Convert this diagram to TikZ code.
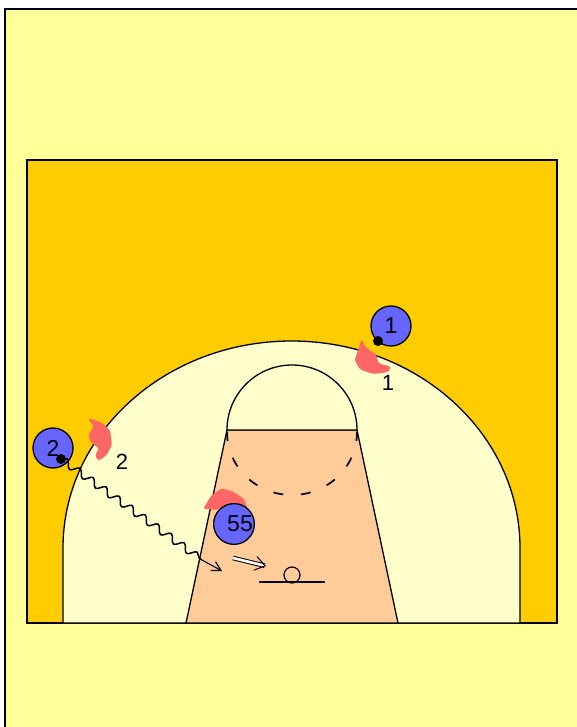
\documentclass[tikz,border=0pt]{standalone}
\usepackage{fontspec}
\setmainfont{Liberation Sans}
\usetikzlibrary{decorations.pathmorphing,arrows.meta}
\definecolor{pagey}{HTML}{FFFF99}
\definecolor{courtgold}{HTML}{FFCC00}
\definecolor{zonecream}{HTML}{FFFFCC}
\definecolor{lanepeach}{HTML}{FFCC99}
\definecolor{playerblue}{HTML}{6666FF}
\definecolor{defred}{HTML}{FF6666}
\tikzset{
  courtline/.style={draw=black,line width=1.3pt},
  player/.style={circle,draw=black,line width=1.3pt,fill=playerblue,minimum size=40pt,inner sep=0pt,font=\fontsize{23}{23}\selectfont},
  ball/.style={circle,fill=black,minimum size=10pt,inner sep=0pt},
  defender/.style={fill=defred,draw=none,rounded corners=2.5pt},
  lbl/.style={inner sep=0pt,font=\fontsize{22}{22}\selectfont},
  dribble/.style={line width=1.5pt,decorate,decoration={snake,amplitude=3.6pt,segment length=16pt}}
}
\begin{document}
\begin{tikzpicture}[x=1pt,y=-1pt]
\useasboundingbox (0,0) rectangle (577,727);
\fill[white] (0,0) rectangle (577,727);
\fill[pagey] (5,9) rectangle (577,727);
\draw[line width=1.6pt] (5,727) -- (5,9) -- (577,9);
% court
\filldraw[courtline,fill=courtgold] (27,160) rectangle (557,623);
\filldraw[courtline,fill=zonecream] (63,623) -- (63,548) arc[start angle=180,end angle=360,x radius=228.5,y radius=207] -- (520,623) -- cycle;
\filldraw[courtline,fill=lanepeach] (186,623) -- (227,430) -- (357,430) -- (398,623) -- cycle;
\filldraw[courtline,fill=zonecream] (227,430) arc[start angle=180,end angle=360,x radius=65,y radius=65] -- cycle;
\draw[line width=1.7pt,dash pattern=on 10pt off 17.6pt,dash phase=1pt] (227,432) arc[start angle=180,end angle=0,x radius=65,y radius=63];
% basket
\node[circle,draw=black,line width=1.2pt,minimum size=16pt,inner sep=0pt] (rim) at (292,575) {};
\coordinate (bl) at (259,582); \coordinate (br) at (325,582);
\draw[line width=1.3pt] (bl) -- (br);
% defenders
\fill[defender] (361.7,339) -- (365,346.7) -- (376.7,355) -- (378.3,363.3) -- (391,366.7) -- (388.3,372) -- (373.3,374) -- (360,369.5) -- (354.5,360) -- (358.3,350) -- cycle;
\fill[defender] (88,418.5) -- (100,421.7) -- (110,430) -- (112,445) -- (106.7,455) -- (98.3,461) -- (95,455) -- (99.3,448.3) -- (91.7,443.3) -- (88,435) -- (94,426.7) -- cycle;
\fill[defender] (203,509) -- (211.7,495) -- (221.7,488.3) -- (233.3,491.7) -- (243.3,498.3) -- (248,509) -- (241.7,510) -- (235,504) -- (225,505) -- (216.7,510) -- (208.3,509) -- cycle;
% players
\node[player] (p1) at (391,326) {1};
\node[player] (p2) at (53,448) {2};
\node[player] (p55) at (234,524) {\hspace{12pt}55};
\node[ball] (b1) at (378,341) {};
\node[ball] (b2) at (61,459) {};
% labels
\node[lbl] (l1) at (388,383) {1};
\node[lbl] (l2) at (122,462) {2};
% dribble
\coordinate (dribbleend) at (202,560);
\coordinate (dribbletip) at (222,571);
\draw[dribble] (b2.center) -- (dribbleend);
\draw[line width=1.1pt,-{Straight Barb[length=9pt,width=10pt]}] (dribbleend) -- (dribbletip);
% pass arrow
\coordinate (shotstart) at (233,558);
\coordinate (shotend) at (266,566);
\draw[line width=1pt,double,double distance=2.6pt,-{Straight Barb[length=10pt,width=14pt]}] (shotstart) -- (shotend);
\end{tikzpicture}
\end{document}
